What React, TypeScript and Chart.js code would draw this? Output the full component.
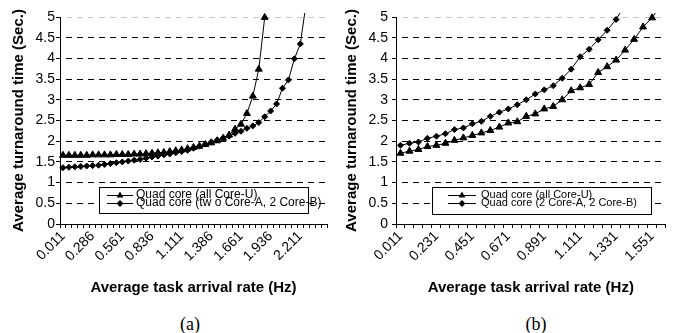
import React, { useEffect, useRef } from "react";
import { Chart, registerables } from "chart.js";

Chart.register(...registerables);

// ---------- data ----------
const categoriesA = [
  "0.011", "0.066", "0.121", "0.176", "0.231", "0.286", "0.341", "0.396", "0.451", "0.506",
  "0.561", "0.616", "0.671", "0.726", "0.781", "0.836", "0.891", "0.946", "1.001", "1.056",
  "1.111", "1.166", "1.221", "1.276", "1.331", "1.386", "1.441", "1.496", "1.551", "1.606",
  "1.661", "1.716", "1.771", "1.826", "1.881", "1.936", "1.991", "2.046", "2.101", "2.156",
  "2.211", "2.266", "2.321", "2.376", "2.431",
];
const categoriesB = [
  "0.011", "0.066", "0.121", "0.176", "0.231", "0.286", "0.341", "0.396", "0.451", "0.506",
  "0.561", "0.616", "0.671", "0.726", "0.781", "0.836", "0.891", "0.946", "1.001", "1.056",
  "1.111", "1.166", "1.221", "1.276", "1.331", "1.386", "1.441", "1.496", "1.551", "1.606",
];
const labelEveryA = 5;
const labelEveryB = 4;

// (a) Quad core (all Core-U)
const allCoreU_A = [
  1.66, 1.66, 1.66, 1.66, 1.66, 1.67, 1.67, 1.67, 1.67, 1.68,
  1.68, 1.68, 1.69, 1.69, 1.70, 1.71, 1.72, 1.73, 1.75, 1.77,
  1.79, 1.82, 1.85, 1.88, 1.92, 1.96, 2.01, 2.07, 2.15, 2.29,
  2.41, 2.67, 3.09, 3.74, 4.99,
];
// (a) Quad core (tw o Core-A, 2 Core-B)
const mixed_A = [
  1.36, 1.37, 1.38, 1.39, 1.40, 1.41, 1.42, 1.44, 1.46, 1.48,
  1.50, 1.52, 1.54, 1.56, 1.59, 1.62, 1.64, 1.67, 1.69, 1.72,
  1.75, 1.78, 1.83, 1.88, 1.93, 1.98, 2.03, 2.08, 2.12, 2.19,
  2.24, 2.31, 2.37, 2.45, 2.59, 2.73, 2.90, 3.28, 3.48, 3.99,
  4.35, 5.35,
];
// (b) Quad core (all Core-U)
const allCoreU_B = [
  1.71, 1.76, 1.80, 1.87, 1.90, 1.95, 2.02, 2.08, 2.14, 2.20,
  2.26, 2.34, 2.44, 2.47, 2.60, 2.66, 2.78, 2.84, 3.00, 3.22,
  3.29, 3.37, 3.66, 3.80, 3.96, 4.20, 4.46, 4.76, 4.98, 5.30,
];
// (b) Quad core (2 Core-A, 2 Core-B)
const mixed_B = [
  1.90, 1.95, 1.98, 2.07, 2.12, 2.18, 2.28, 2.32, 2.42, 2.48,
  2.60, 2.70, 2.78, 2.88, 3.00, 3.14, 3.24, 3.34, 3.52, 3.74,
  4.04, 4.22, 4.45, 4.68, 4.94, 5.30,
];

const legendA = ["Quad core (all Core-U)", "Quad core (tw o Core-A, 2 Core-B)"];
const legendB = ["Quad core (all Core-U)", "Quad core (2 Core-A, 2 Core-B)"];
const yTitle = "Average turnaround time (Sec.)";
const xTitle = "Average task arrival rate (Hz)";
const yMin = 0;
const yMax = 5;
const yStep = 0.5;

// ---------- drawing ----------
const FONT = "'Liberation Sans', Arial, sans-serif";

function drawMarker(ctx: CanvasRenderingContext2D, kind: string, x: number, y: number) {
  ctx.beginPath();
  if (kind === "triangle") {
    const r = 4;
    ctx.moveTo(x, y - r);
    ctx.lineTo(x + r * 0.866, y + r / 2);
    ctx.lineTo(x - r * 0.866, y + r / 2);
  } else {
    const r = 3.5;
    ctx.moveTo(x, y - r);
    ctx.lineTo(x + r, y);
    ctx.lineTo(x, y + r);
    ctx.lineTo(x - r, y);
  }
  ctx.closePath();
  ctx.fill();
}

const boxLegend = {
  id: "boxLegend",
  afterDraw(chart: any, _args: any, o: any) {
    const ctx: CanvasRenderingContext2D = chart.ctx;
    ctx.save();
    ctx.fillStyle = "#fff";
    ctx.fillRect(o.x, o.y, o.w, o.h);
    ctx.strokeStyle = "#000";
    ctx.lineWidth = 1;
    ctx.strokeRect(o.x, o.y, o.w, o.h);
    const kinds = ["triangle", "diamond"];
    o.labels.forEach((lab: string, i: number) => {
      const ry = o.rows[i];
      ctx.strokeStyle = "#000";
      ctx.beginPath();
      ctx.moveTo(o.s1, Math.round(ry) + 0.5);
      ctx.lineTo(o.s2, Math.round(ry) + 0.5);
      ctx.stroke();
      ctx.fillStyle = "#000";
      drawMarker(ctx, kinds[i], (o.s1 + o.s2) / 2, Math.round(ry) + 0.5);
      ctx.font = `${o.fontSize}px ${FONT}`;
      ctx.textAlign = "left";
      ctx.textBaseline = "middle";
      ctx.fillText(lab, o.tx, ry);
    });
    ctx.restore();
  },
};

const CLIP = { left: 4, top: 4, right: 4, bottom: 4 };

function buildConfig(p: any) {
  const every = p.every;
  return {
    type: "line",
    data: {
      labels: p.categories,
      datasets: [
        {
          label: p.legend[0],
          data: p.coreU,
          borderColor: "#000",
          backgroundColor: "#000",
          borderWidth: 1,
          pointStyle: "triangle",
          pointRadius: 4,
          pointBorderWidth: 1,
          pointBackgroundColor: "#000",
          pointBorderColor: "#000",
          tension: 0,
          fill: false,
          clip: CLIP,
        },
        {
          label: p.legend[1],
          data: p.mixed,
          borderColor: "#000",
          backgroundColor: "#000",
          borderWidth: 1,
          pointStyle: "rectRot",
          pointRadius: 3,
          pointBorderWidth: 1,
          pointBackgroundColor: "#000",
          pointBorderColor: "#000",
          tension: 0,
          fill: false,
          clip: CLIP,
        },
      ],
    },
    options: {
      responsive: false,
      animation: false,
      devicePixelRatio: 1,
      events: [],
      layout: { padding: { left: 0, top: 17, right: p.padRight, bottom: 0 } },
      plugins: {
        legend: { display: false },
        tooltip: { enabled: false },
        boxLegend: p.legendBox,
      },
      scales: {
        x: {
          type: "category",
          offset: true,
          grid: {
            offset: true,
            drawOnChartArea: false,
            drawTicks: true,
            tickLength: 4,
            color: "#000",
            tickColor: "#000",
          },
          border: { color: "#000", width: 1 },
          ticks: {
            autoSkip: false,
            minRotation: 45,
            maxRotation: 45,
            padding: 0,
            color: "#000",
            font: { family: FONT, size: 14 },
            callback: function (this: any, value: any, index: number) {
              return index % every === 0 ? this.getLabelForValue(value) : "";
            },
          },
          title: {
            display: true,
            text: xTitle,
            color: "#000",
            font: { family: FONT, size: 15, weight: "bold" },
            padding: { top: 0, bottom: 0 },
          },
          afterFit(s: any) {
            s.height = 73;
          },
        },
        y: {
          min: yMin,
          max: yMax,
          ticks: {
            stepSize: yStep,
            padding: p.yTickPad,
            color: "#000",
            font: { family: FONT, size: 14 },
            callback: (v: any) => String(v),
          },
          grid: {
            color: (c: any) => (c.tick && c.tick.value === yMax ? "#c8c8c8" : "#000"),
            tickColor: "#000",
            tickLength: 4,
            lineWidth: 1,
          },
          border: { color: "#000", width: 1, dash: [6, 5], dashOffset: 6 },
          title: {
            display: true,
            text: yTitle,
            color: "#000",
            font: { family: FONT, size: 15, weight: "bold" },
            padding: { top: p.yTitlePad, bottom: 0 },
          },
          afterFit(s: any) {
            s.width = 60;
          },
        },
      },
    },
    plugins: [boxLegend],
  };
}

function ChartPanel({ left, width, height, params }: any) {
  const ref = useRef<HTMLCanvasElement>(null);
  useEffect(() => {
    const chart = new Chart(ref.current as HTMLCanvasElement, buildConfig(params) as any);
    return () => chart.destroy();
  }, []);
  return (
    <canvas
      ref={ref}
      width={width}
      height={height}
      style={{ position: "absolute", left, top: 0, width, height }}
    />
  );
}

const paramsA = {
  categories: categoriesA,
  every: labelEveryA,
  coreU: allCoreU_A,
  mixed: mixed_A,
  legend: legendA,
  padRight: 7,
  yTickPad: 1,
  yTitlePad: 10,
  legendBox: {
    labels: legendA,
    x: 99.5, y: 187.5, w: 209, h: 26,
    s1: 107, s2: 133, tx: 136,
    rows: [194.5, 203], fontSize: 12,
  },
};

const paramsB = {
  categories: categoriesB,
  every: labelEveryB,
  coreU: allCoreU_B,
  mixed: mixed_B,
  legend: legendB,
  padRight: 4,
  yTickPad: 4,
  yTitlePad: 7,
  legendBox: {
    labels: legendB,
    x: 96.5, y: 187.5, w: 219, h: 27,
    s1: 112, s2: 140, tx: 145,
    rows: [194.5, 203], fontSize: 11,
  },
};

const capStyle: React.CSSProperties = {
  position: "absolute",
  top: 312,
  width: 60,
  textAlign: "center",
  fontFamily: "'Liberation Serif', 'Times New Roman', serif",
  fontSize: 18,
  lineHeight: "24px",
  color: "#000",
};

export default function App() {
  return (
    <div
      style={{
        position: "absolute",
        left: 0,
        top: 0,
        width: 673,
        height: 333,
        background: "#fff",
        overflow: "hidden",
      }}
    >
      <ChartPanel left={0} width={336} height={297} params={paramsA} />
      <ChartPanel left={336} width={337} height={297} params={paramsB} />
      <div style={{ ...capStyle, left: 160 }}>(a)</div>
      <div style={{ ...capStyle, left: 506 }}>(b)</div>
    </div>
  );
}
